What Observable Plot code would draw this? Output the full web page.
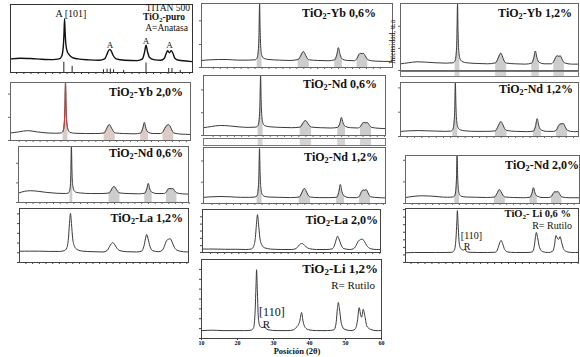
<!DOCTYPE html>
<html><head><meta charset="utf-8">
<script src="https://cdn.jsdelivr.net/npm/d3@7"></script>
<script src="https://cdn.jsdelivr.net/npm/@observablehq/plot@0.6"></script>
<style>
html,body{margin:0;padding:0;background:#fff}
#c{position:relative;width:580px;height:357px;overflow:hidden;background:#fff;font-family:"Liberation Serif","Times New Roman",serif;color:#111}
#c svg{position:absolute;overflow:visible;background:transparent}
.lab{position:absolute;white-space:nowrap;line-height:1}
.lab sub{font-size:0.68em;line-height:0;vertical-align:-0.28em}
</style></head><body><div id="c"></div>
<script>
// ---- Data: [2θ, relative intensity] ----
const puro = [[10.4,20],[13,21],[16,20.5],[19,19.5],[22,19],[23.8,20],[24.5,24],[24.95,38],[25.15,58],[25.3,79],[25.45,60],[25.7,40],[26.1,30],[26.6,26],[27.5,22],[29,20],[32,18.5],[35,18],[36.4,20],[37.0,26],[37.5,32],[37.9,34],[38.3,31],[38.8,25],[39.6,20],[42,18],[45.5,17.5],[46.9,20],[47.5,30],[47.9,40],[48.3,31],[48.9,22],[50,19],[52,18],[53.0,21],[53.5,28],[53.9,32],[54.4,29],[54.9,32],[55.3,29],[55.9,21],[57,18],[59,17],[60.7,16]];
const puroRefs = [[25.1,15],[27.4,9],[36.1,4],[37.1,5],[38.0,5],[38.9,4],[41.7,3],[47.9,14],[54.2,6],[55.1,6],[57.4,3]];
const yb06 = [[8.7,11],[11,12],[13.5,12.5],[16,12.5],[19,11.5],[22,11.5],[24.0,12],[24.6,15],[24.95,28],[25.15,55],[25.3,100],[25.45,60],[25.65,30],[26.0,18],[26.6,14],[28,12.5],[31,11.5],[34,11],[36.4,12.5],[37.0,17],[37.5,22.5],[37.9,25],[38.3,22],[38.9,15],[39.6,12],[42,11],[45,10.5],[46.9,12],[47.5,20],[47.95,31],[48.4,21],[49.1,13],[50.5,11],[52.5,10.5],[53.3,14],[53.8,20],[54.3,22],[54.8,21.5],[55.2,22],[55.7,18],[56.4,12],[58.5,10],[61,9.5],[63.4,9.5]];
const yb12 = [[8.8,10],[11,11.5],[13.5,13],[16,12.5],[19,11.5],[22,11],[24.0,11.5],[24.6,15],[24.95,28],[25.15,55],[25.3,100],[25.45,58],[25.65,30],[26.0,18],[26.6,13.5],[28,11.5],[31,10.5],[34,10],[36.4,11.5],[37.0,17],[37.5,23],[37.9,26],[38.3,22],[38.9,14],[39.6,11],[42,10],[45,9.5],[46.9,11],[47.5,19],[47.95,29],[48.4,19],[49.1,12],[50.5,10],[52.5,10],[53.3,13.5],[53.8,19],[54.3,22],[54.8,21],[55.2,22],[55.7,17],[56.4,11.5],[58.5,9.5],[60.4,9.5]];
const yb20 = [[9.6,13],[12,15],[14.4,17],[17,15],[20,13],[22.5,12.5],[24.0,13],[24.6,16],[24.95,30],[25.15,58],[25.3,100],[25.45,60],[25.65,32],[26.0,19],[26.6,14],[28,12.5],[31,12],[34,12],[36.4,13],[37.0,19],[37.5,25],[37.9,27.5],[38.3,24],[38.9,17],[39.6,13],[42,12],[45,11.5],[46.9,13],[47.5,21],[47.95,31],[48.4,21],[49.1,14],[50.5,12],[52.5,12],[53.3,15],[53.8,21],[54.3,25],[54.8,27.5],[55.2,26],[55.7,20],[56.4,13],[58.5,11],[61.1,10.5]];
const nd06a = [[9.4,13],[11.5,15],[14,16.7],[16.5,16],[19,14.5],[22,13.5],[24.0,14],[24.6,17],[24.95,30],[25.15,58],[25.3,100],[25.45,60],[25.65,32],[26.0,20],[26.6,16],[28,14.5],[31,13.5],[34,13],[36.4,14],[37.0,19],[37.5,23.5],[37.9,25],[38.3,22.5],[38.9,17],[39.6,14],[42,13],[45,12.5],[46.9,13.5],[47.5,20],[47.95,30],[48.4,21],[49.1,15],[50.5,13],[52.5,12.5],[53.3,15],[53.8,20],[54.3,21.7],[54.8,21],[55.2,21.7],[55.7,18],[56.4,13.5],[58.5,12],[60.2,11.5]];
const nd12a = [[10.2,9.5],[12.5,10.5],[15,11],[17.5,10.5],[20,10],[22.5,9.5],[24.0,10],[24.6,13],[24.95,27],[25.15,55],[25.3,100],[25.45,58],[25.65,30],[26.0,17],[26.6,12.5],[28,10.5],[31,9.5],[34,9.5],[36.4,10.5],[37.0,17],[37.5,24],[37.9,27.8],[38.3,24],[38.9,15],[39.6,11],[42,9.5],[45,9],[46.9,10],[47.5,19],[47.95,33],[48.4,20],[49.1,12],[50.5,9.5],[52.5,9.5],[53.3,12],[53.8,19],[54.3,23],[54.8,23.5],[55.2,24],[55.7,18],[56.4,11],[58,9],[59.3,9]];
const nd06b = [[9.8,17],[11.5,20],[13.2,21],[15.5,20],[18,18],[21,16.5],[23.5,16],[24.4,17],[24.9,25],[25.15,55],[25.3,100],[25.45,58],[25.7,30],[26.1,21],[26.8,18],[28,17],[31,16],[34,16],[36.4,17],[37.0,22],[37.5,27],[37.9,28.6],[38.3,26],[38.9,20],[39.6,17],[42,16],[45,15.5],[46.9,16.5],[47.5,24],[47.95,34],[48.4,24],[49.1,18],[50.5,16],[52.5,16],[53.3,19],[53.8,24],[54.3,25],[54.8,24.5],[55.2,25],[55.7,21],[56.4,17],[58,15.5],[59.7,15]];
const nd12b = [[9.7,11],[12,12],[14.5,12.5],[17,12],[20,11],[22.5,11],[24.0,11.5],[24.6,14],[24.95,27],[25.15,55],[25.3,98],[25.45,57],[25.65,30],[26.0,17],[26.6,13],[28,11.5],[31,11],[34,10.5],[36.4,11.5],[37.0,17],[37.5,24],[37.9,27],[38.3,23],[38.9,15],[39.6,11.5],[42,10.5],[45,10.5],[46.9,11],[47.5,20],[47.95,34],[48.4,21],[49.1,13],[50.5,10.5],[52.5,10.5],[53.3,13],[53.8,20],[54.3,24],[54.8,23.5],[55.2,25],[55.7,19],[56.4,12],[58.5,10.5],[60.5,10]];
const nd20 = [[10.1,12.5],[12.5,15],[15,16],[17.5,15.5],[20,14],[22.5,13],[24.0,13.5],[24.6,16],[24.95,30],[25.15,58],[25.3,100],[25.45,60],[25.65,32],[26.0,19],[26.6,15],[28,13.5],[31,13],[34,12.5],[36.4,13.5],[37.0,19],[37.5,26],[37.9,29],[38.3,25],[38.9,17],[39.6,13.5],[42,12.5],[45,12],[46.9,13],[47.5,21],[47.95,33],[48.4,22],[49.1,15],[50.5,12.5],[52.5,12.5],[53.3,15],[53.8,21],[54.3,24.5],[54.8,24],[55.2,25],[55.7,20],[56.4,13.5],[58.5,12],[61.5,12]];
const la12 = [[10.2,21],[13,21],[16,21],[19,20.5],[22,20.5],[23.5,22],[24.2,27],[24.7,45],[25.0,72],[25.3,91],[25.6,72],[25.95,45],[26.5,30],[27.3,24],[29,21],[32,20],[35,19.5],[36.2,22],[36.9,29],[37.5,35],[37.9,37],[38.4,34],[39.1,27],[40,22],[42,20],[45,19.5],[46.5,21],[47.2,30],[47.7,45],[48.0,52],[48.4,45],[49.0,30],[49.8,22],[51.5,20],[52.6,22],[53.3,30],[53.9,40],[54.5,43],[55.1,44],[55.6,38],[56.3,28],[57.3,22],[59,20],[60.4,19.5]];
const la20 = [[9.8,8],[13,8],[16,7.5],[19,7.5],[22,7],[23.5,8],[24.2,14],[24.7,35],[25.0,65],[25.3,88],[25.6,66],[25.95,36],[26.5,18],[27.3,11],[29,8],[32,7],[35,7],[36.2,9],[36.9,15],[37.5,20],[37.9,21],[38.4,19],[39.1,13],[40,9],[42,7],[45,7],[46.5,8.5],[47.2,18],[47.7,32],[48.0,38],[48.4,32],[49.0,18],[49.8,9],[51.5,7],[52.6,9],[53.3,17],[53.9,26],[54.5,30],[55.1,31],[55.6,26],[56.3,16],[57.3,9],[59,7],[60.1,7]];
const li06 = [[10.5,18],[13,18.5],[16,18.5],[19,18.5],[22,18.5],[23.8,19],[24.5,24],[24.9,45],[25.15,75],[25.3,96],[25.5,72],[25.75,42],[26.1,28],[26.6,24],[27.1,23],[27.4,24],[27.8,21],[28.6,19],[31,18.5],[34,18.5],[36.2,19],[36.9,25],[37.5,37],[37.85,41],[38.3,35],[38.9,24],[39.8,19.5],[42,18.5],[45,18.5],[46.8,19.5],[47.4,30],[47.75,48],[48.0,55.6],[48.35,46],[48.9,28],[49.8,20],[51.5,18.5],[52.7,21],[53.2,32],[53.6,50],[54.1,44],[54.4,43],[54.8,48],[55.3,36],[55.9,24],[57,19.5],[58.5,18.5],[60,18.5]];
const li12 = [[10.2,10],[13,10.5],[16,10],[19,10],[22,10],[23.8,10.5],[24.5,14],[24.9,35],[25.15,68],[25.3,87],[25.5,62],[25.75,30],[26.1,17],[26.6,14],[27.1,14],[27.4,15],[27.8,13],[28.6,11],[31,10],[34,10],[35.6,11],[36.3,14],[36.8,16.5],[37.3,22],[37.8,33],[38.2,22],[38.8,14],[39.8,11],[42,10],[45,10],[46.8,11],[47.4,20],[47.75,38],[48.0,45.6],[48.35,36],[48.9,18],[49.8,11.5],[51.5,10],[52.7,12],[53.3,22],[53.8,39],[54.3,28],[54.5,27],[54.9,37],[55.4,28],[55.9,16],[57,11.5],[58.5,10],[59.9,10]];

// peak windows (2θ) shaded in the instrument plots
const peakWindows = [[24.6,26.0],[36.4,39.6],[46.9,49.1],[53.3,56.4]];
// x tick values (2θ)
const xTicksLab = [10,20,30,40,50,60];
const xTicksMinor = [12,14,16,18,20,22,24,26,28,30,32,34,36,38,40,42,44,46,48,50,52,54,56,58,60];
// texts
const panelTitles = ["TiO2-Yb 0,6%","TiO2-Yb 1,2%","TiO2-Yb 2,0%","TiO2-Nd 0,6%","TiO2-Nd 1,2%","TiO2-Nd 0,6%","TiO2-Nd 1,2%","TiO2-Nd 2,0%","TiO2-La 1,2%","TiO2-La 2,0%","TiO2- Li 0,6 %","TiO2-Li 1,2%"];
const puroTexts = ["TITAN 500","TiO2-puro","A=Anatasa"];
const puroAnnots = [{t:"A [101]",x:22.8,y:81,a:"start",s:10},{t:"A",x:37.9,y:36.5,a:"middle",s:9},{t:"A",x:47.9,y:42.5,a:"middle",s:9},{t:"A",x:54.4,y:36.5,a:"middle",s:9}];
const li06Annots = [{t:"[110]",x:26.3,y:43.5,a:"start",s:10},{t:"R",x:27.1,y:23.5,a:"start",s:10}];
const li12Annots = [{t:"[110]",x:26.0,y:28.5,a:"start",s:12},{t:"R",x:27.0,y:13.3,a:"start",s:11}];
const rutileNote = "R= Rutilo";
const yAxisTitle = "Intensidad, u.a";
const xAxisTitle = "Posición (2θ)";

const root = document.getElementById("c");

function addPanel(p) {
  const m = {l:3, r:1, t:1, b:3};
  const w = p.box[1]-p.box[0], h = p.box[3]-p.box[2];
  const pts = p.data.map(([x,y]) => ({x,y}));
  const marks = [];
  if (p.shade) {
    const sh = [];
    peakWindows.forEach(([a,b],k) => pts.forEach(d => { if (d.x>=a && d.x<=b) sh.push({x:d.x,y:d.y,k}); }));
    marks.push(Plot.areaY(sh, {x:"x", y:"y", z:"k", fill:p.shadeFill||"#cdcdcd", curve:"monotone-x"}));
  }
  if (p.refs) marks.push(Plot.ruleX(p.refs, {x:d=>d[0], y1:0, y2:d=>d[1], stroke:"#222", strokeWidth:1}));
  marks.push(Plot.lineY(pts, {x:"x", y:"y", stroke:p.stroke||"#3a3a3a", strokeWidth:p.sw||1, curve:"monotone-x"}));
  if (p.hi) marks.push(Plot.lineY(pts.filter(d=>d.x>=p.hi[0]&&d.x<=p.hi[1]), {x:"x", y:"y", stroke:"#c84040", strokeWidth:1, curve:"monotone-x"}));
  if (p.annots) {
    p.annots.forEach(d => {
      marks.push(Plot.text([d], {x:"x", y:"y", text:"t", textAnchor:d.a, lineAnchor:"bottom", fontSize:d.s, fontWeight:"normal", fontFamily:'"Liberation Serif", serif', fill:"#111"}));
    });
  }
  marks.push(Plot.frame({stroke:p.frame||"#666"}));
  marks.push(Plot.axisX({ticks:p.xTicks||xTicksMinor, tickSize:2, tickPadding:0, tickFormat:p.xLabels?(d=>d):(()=>""), stroke:p.frame||"#666", label:null}));
  marks.push(Plot.axisY({ticks:p.yTicks||[], tickSize:2, tickFormat:()=>"", stroke:p.frame||"#666", label:null}));
  const svg = Plot.plot({
    width:w+m.l+m.r, height:h+m.t+m.b,
    marginLeft:m.l, marginRight:m.r, marginTop:m.t, marginBottom:m.b,
    x:{domain:p.domain, label:null}, y:{domain:[0,100], label:null},
    style:{fontFamily:'"Liberation Serif", serif', fontSize:(p.xLabels?"6px":"9px"), fontWeight:(p.xLabels?"bold":"normal"), color:"#111", background:"transparent", overflow:"visible"},
    marks
  });
  svg.style.left = (p.box[0]-m.l)+"px";
  svg.style.top = (p.box[2]-m.t)+"px";
  root.appendChild(svg);
}

// thin reference strip with the peak windows, drawn under some instrument panels
function addStrip(s) {
  const w = s.box[1]-s.box[0], h = s.box[3]-s.box[2];
  const svg = Plot.plot({
    width:w, height:h, margin:0,
    x:{domain:s.domain, axis:null}, y:{domain:[0,1], axis:null},
    style:{background:"transparent", overflow:"visible"},
    marks:[
      Plot.rectY(peakWindows, {x1:d=>d[0], x2:d=>d[1], y1:0, y2:1, fill:"#d4d4d4"}),
      Plot.frame({stroke:"#777"})
    ]
  });
  svg.style.left = s.box[0]+"px";
  svg.style.top = s.box[2]+"px";
  root.appendChild(svg);
}

function addLabel(text, x, base, size, bold, align) {
  const d = document.createElement("div");
  d.className = "lab";
  d.innerHTML = text.replace("TiO2", "TiO<sub>2</sub>");
  d.style.fontSize = size+"px";
  d.style.fontWeight = bold ? "bold" : "normal";
  d.style.top = (base - 0.8375*size)+"px";
  if (align === "center") { d.style.left = x+"px"; d.style.transform = "translateX(-50%)"; }
  else if (align === "left") d.style.left = x+"px";
  else d.style.right = (580-x)+"px";
  root.appendChild(d);
}

const panels = [
  {data:puro, box:[10,192,4,72], domain:[10.3,60.8], refs:puroRefs, annots:puroAnnots, frame:"#333", stroke:"#111", sw:1.4, yTicks:[]},
  {data:yb06, box:[201,392,3,67], domain:[8.6,63.5], shade:true, yTicks:[0,36,73]},
  {data:yb12, box:[400,578,3,70], domain:[8.7,60.5], shade:true, yTicks:[0,33,66]},
  {data:yb20, box:[10,190,82,140], domain:[9.5,61.2], shade:true, hi:[24.6,26.0], shadeFill:"#dccac6", yTicks:[0,40,80]},
  {data:nd06a, box:[203,385,75,135], domain:[9.3,60.3], shade:true, yTicks:[0,38,76]},
  {data:nd12a, box:[400,578,82,136], domain:[10.1,59.4], shade:true, yTicks:[0,45,90]},
  {data:nd06b, box:[18,188,146,202], domain:[9.7,59.8], shade:true, yTicks:[0,35,70]},
  {data:nd12b, box:[203,385,147,203], domain:[9.6,60.6], shade:true, yTicks:[0,38,76]},
  {data:nd20, box:[405,579,155,203], domain:[10.0,61.6], shade:true, yTicks:[0,45,90]},
  {data:la12, box:[19,188,208,262], domain:[10.1,60.5], frame:"#444", yTicks:[0,18,36,54,72,90]},
  {data:la20, box:[202,380,209,252], domain:[9.7,60.2], frame:"#444", yTicks:[0,16,33,50,66,83]},
  {data:li06, box:[405,578,208,262], domain:[10.4,60.1], frame:"#444", annots:li06Annots, yTicks:[0,14,28,42,56,70,84,98]},
  {data:li12, box:[201,381,259,338], domain:[10,60], frame:"#444", annots:li12Annots, xTicks:xTicksLab, xLabels:true, yTicks:[0,12.5,25,37.5,50,62.5,75,87.5]}
];
panels.forEach(addPanel);
addStrip({box:[400,578,71,76], domain:[8.7,60.5]});
addStrip({box:[203,385,138,145], domain:[9.3,60.3]});

// titles
addLabel(puroTexts[0], 190, 12, 9.5, false);
addLabel(puroTexts[1], 185, 21, 9.5, true);
addLabel(puroTexts[2], 188, 32, 9.5, false);
const titlePos = [[376,17,12],[572,17,12],[183,96,12],[377,88,12],[573,93,12],[183,157,12],[378,161,12],[579,169,12],[183,222,12],[378,224,12],[571,218,10.5],[378,273,13]];
panelTitles.forEach((t,i) => addLabel(t, titlePos[i][0], titlePos[i][1], titlePos[i][2], true));
addLabel(rutileNote, 572, 229, 10, false);
addLabel(rutileNote, 375, 289, 11, false);
addLabel(xAxisTitle, 297, 354, 8.5, true, "center");
// rotated y title
const yt = document.createElement("div");
yt.className = "lab"; yt.textContent = yAxisTitle;
yt.style.fontSize = "7.5px"; yt.style.left = "393px"; yt.style.top = "42px";
yt.style.transform = "translate(-50%,-50%) rotate(-90deg)";
root.appendChild(yt);
</script></body></html>
